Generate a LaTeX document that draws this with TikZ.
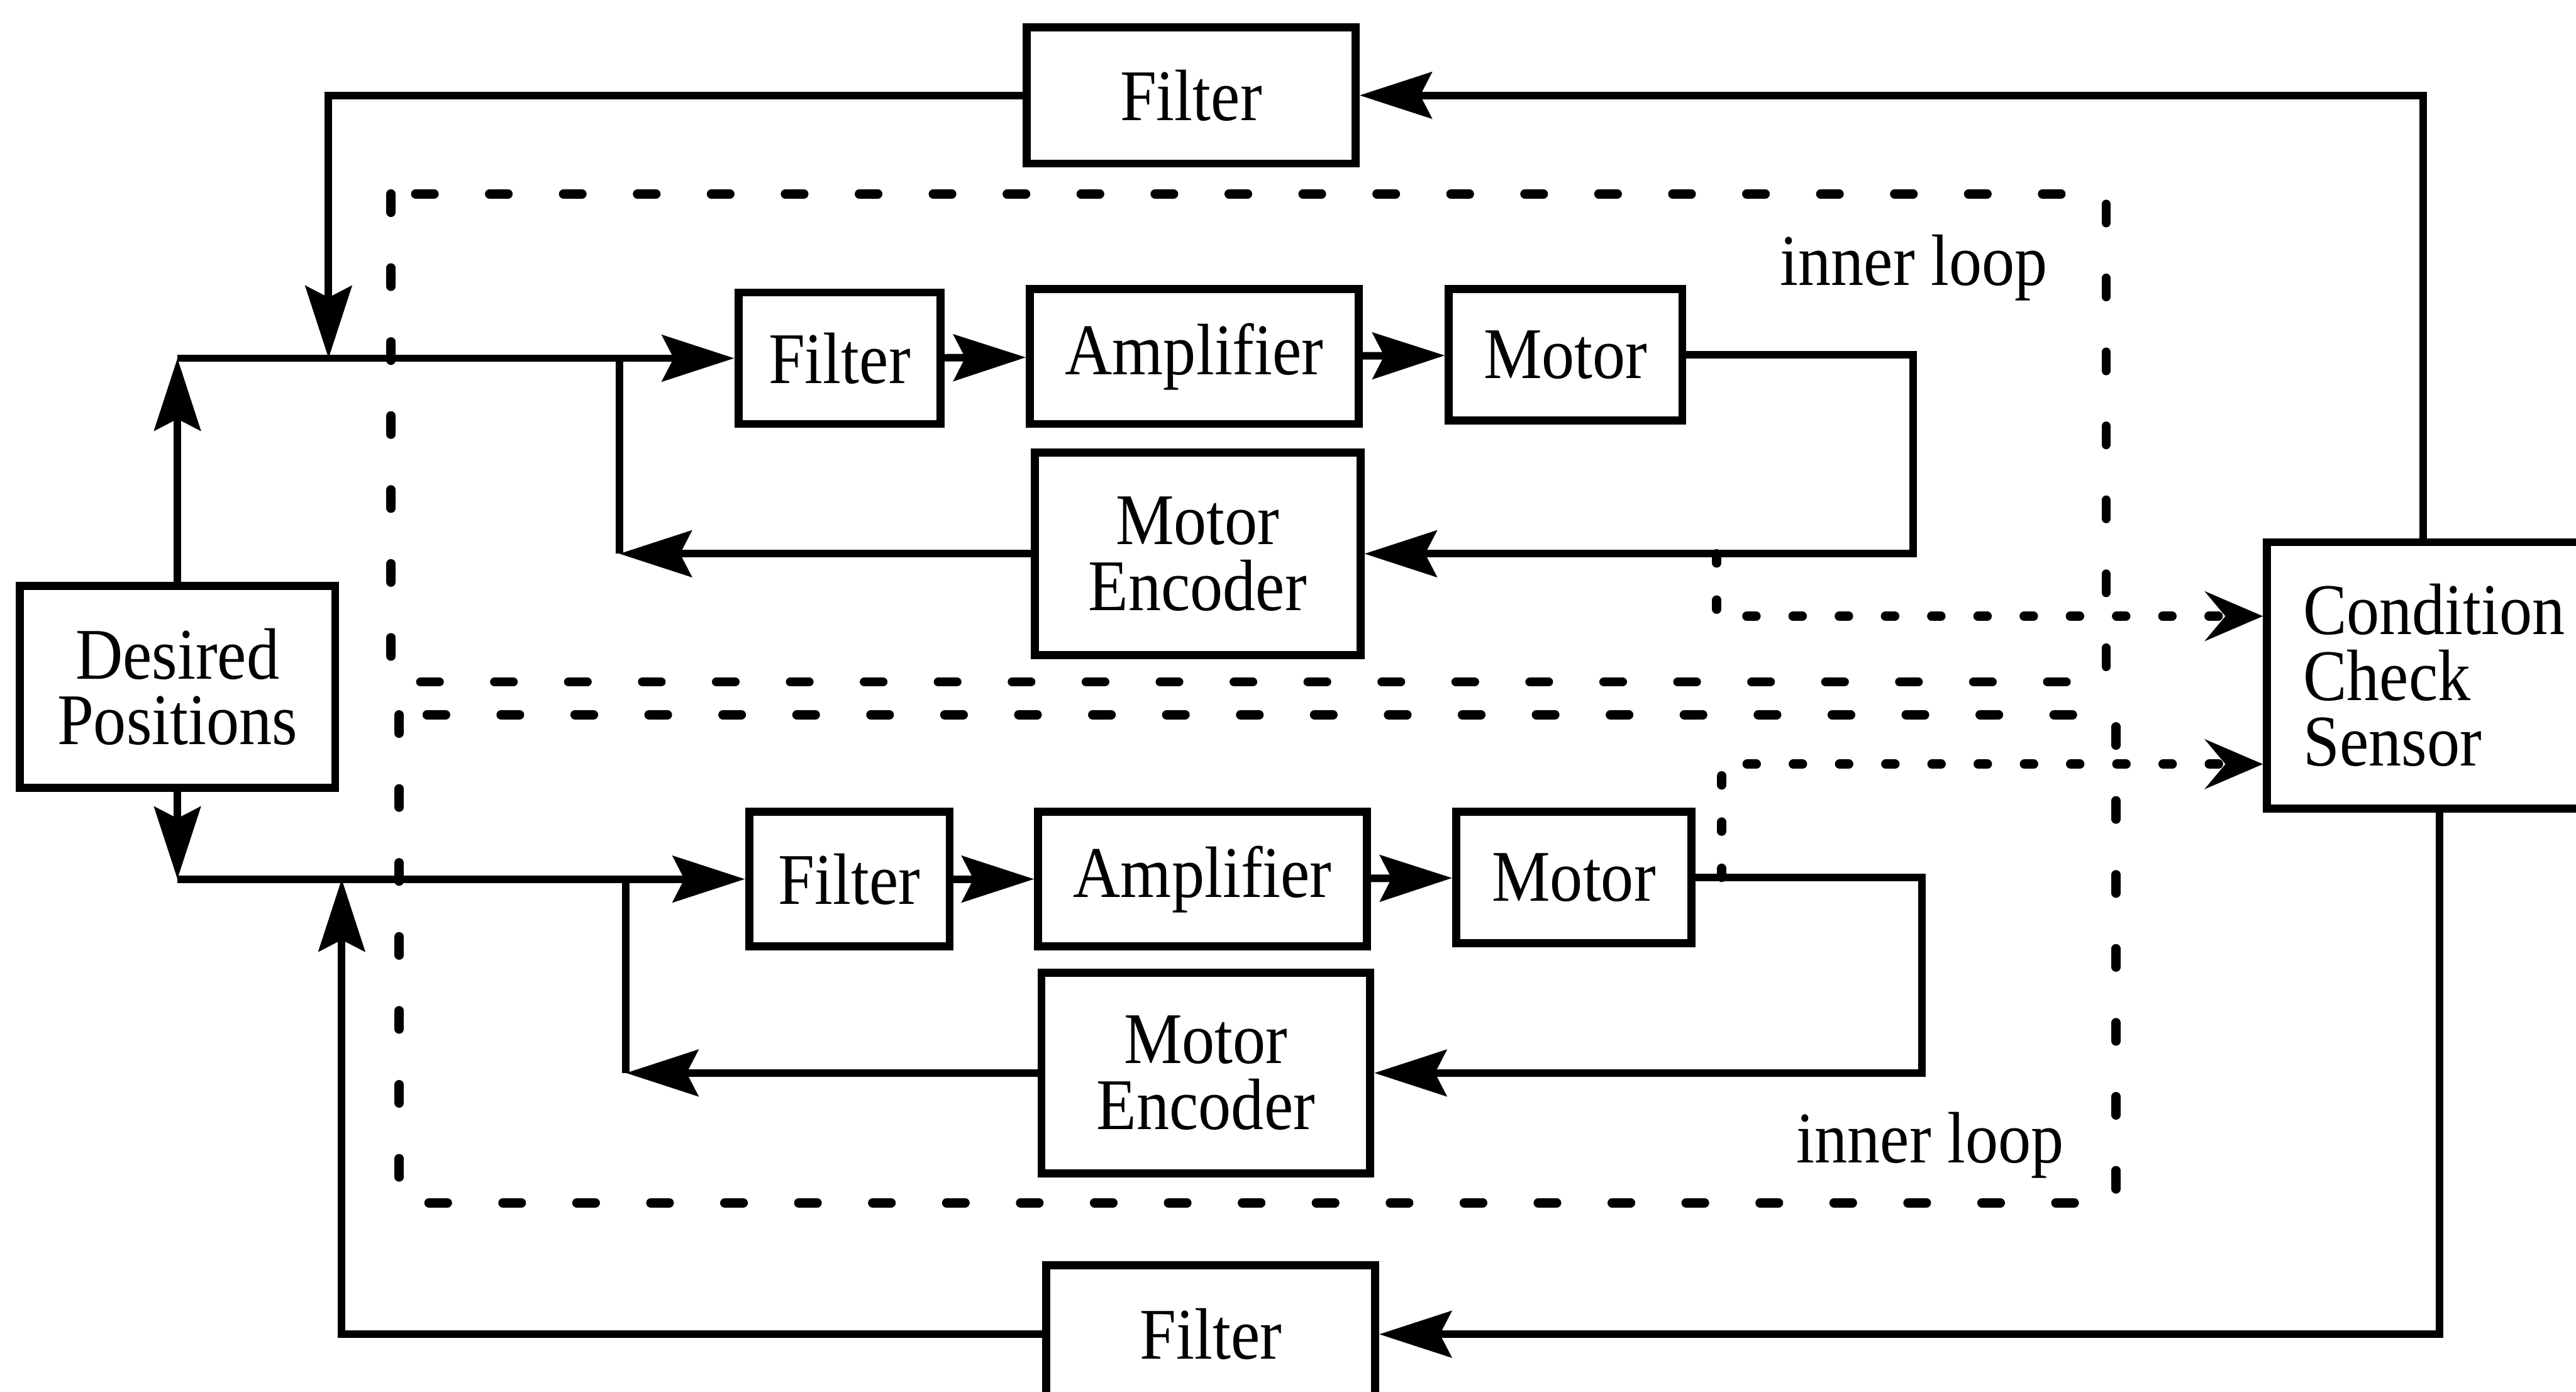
\documentclass[tikz,border=0pt]{standalone}
\usepackage{fontspec}
\setmainfont{Liberation Serif}[FakeStretch=0.9]
\usetikzlibrary{arrows.meta,calc}

\begin{document}
\begin{tikzpicture}[x=0.01cm,y=-0.01cm,
  every node/.style={font=\fontsize{12.6}{11.4}\selectfont},
  blk/.style={draw,line width=1.4pt,inner sep=0pt,align=center},
  wire/.style={line width=1.3pt},
  arr/.style={wire,-{Stealth[length=12.5pt,width=8pt,inset=2pt]}},
  loopbox/.style={line width=1.6pt,line cap=round,dash pattern=on 3.2pt off 9.6pt},
  dotarr/.style={line width=1.6pt,line cap=round,dash pattern=on 1.6pt off 6.4pt,
    -{Stealth[length=10pt,width=8.5pt,inset=3.5pt]}},
  lbl/.style={inner sep=0pt}]
\useasboundingbox (0,0) rectangle (1568,847);
\clip (0,0) rectangle (1568,847);

% outer blocks
\node[blk,minimum width=2cm,minimum height=0.83cm] (fTop) at (725,58) {Filter};
\node[blk,minimum width=1.92cm,minimum height=1.23cm] (dp) at (108,418) {Desired\\Positions};
\node[blk,minimum width=2.2cm,minimum height=1.62cm,align=left,text width=1.76cm] (ccs) at (1490,411) {Condition\\Check\\Sensor};
\node[blk,minimum width=2cm,minimum height=0.84cm] (fBot) at (737,812) {Filter};

% upper inner loop
\node[blk,minimum width=1.23cm,minimum height=0.8cm] (f1) at (511,218) {Filter};
\node[blk,minimum width=2cm,minimum height=0.82cm] (a1) at (727,217) {Amplifier};
\node[blk,minimum width=1.42cm,minimum height=0.8cm] (m1) at (953,216) {Motor};
\node[blk,minimum width=1.98cm,minimum height=1.23cm] (e1) at (729,337) {Motor\\Encoder};

% lower inner loop
\node[blk,minimum width=1.22cm,minimum height=0.82cm] (f2) at (517,535) {Filter};
\node[blk,minimum width=2cm,minimum height=0.82cm] (a2) at (732,535) {Amplifier};
\node[blk,minimum width=1.43cm,minimum height=0.8cm] (m2) at (958,534) {Motor};
\node[blk,minimum width=2cm,minimum height=1.22cm] (e2) at (734,653) {Motor\\Encoder};

% loop boundaries
\draw[loopbox] (238,118) rectangle (1282,415);
\draw[loopbox] (243,435) rectangle (1288,732);
\node[lbl] (il1) at (1165,163) {inner loop};
\node[lbl] (il2) at (1175,697) {inner loop};

% junction points
\coordinate (jT) at (200,218);
\coordinate (jB) at (208,535);
\coordinate (k1) at (377,337);
\coordinate (k2) at (381,653);
\coordinate (rT) at (1475,0);
\coordinate (rB) at (1485,0);
\coordinate (d1) at (1045,337);
\coordinate (d2) at (1048,534);

% reference paths from the desired positions
\draw[arr] (dp.north) -- (dp.north |- f1.west);
\draw[arr] (dp.north |- f1.west) -- (f1.west);
\draw[arr] (dp.south) -- (dp.south |- f2.west);
\draw[arr] (dp.south |- f2.west) -- (f2.west);

% upper forward path and encoder feedback
\draw[arr] (f1) -- (a1);
\draw[arr] (a1) -- (m1);
\draw[arr] (m1.east) -- ++(138,0) |- (e1.east);
\draw[arr] (e1.west) -- (k1);
\draw[wire] (k1) -- (k1 |- f1.west);

% lower forward path and encoder feedback
\draw[arr] (f2) -- (a2);
\draw[arr] (a2) -- (m2);
\draw[arr] (m2.east) -- ++(138,0) |- (e2.east);
\draw[arr] (e2.west) -- (k2);
\draw[wire] (k2) -- (k2 |- f2.west);

% sensor feedback through the outer filters
\draw[arr] (ccs.north -| rT) |- (fTop.east);
\draw[arr] (fTop.west) -| (jT);
\draw[arr] (ccs.south -| rB) |- (fBot.east);
\draw[arr] (fBot.west) -| (jB);

% signals to the condition check sensor
\draw[dotarr] (d1) |- ([yshift=0.36cm]ccs.west);
\draw[dotarr] (d2) |- ([yshift=-0.54cm]ccs.west);
\end{tikzpicture}
\end{document}
